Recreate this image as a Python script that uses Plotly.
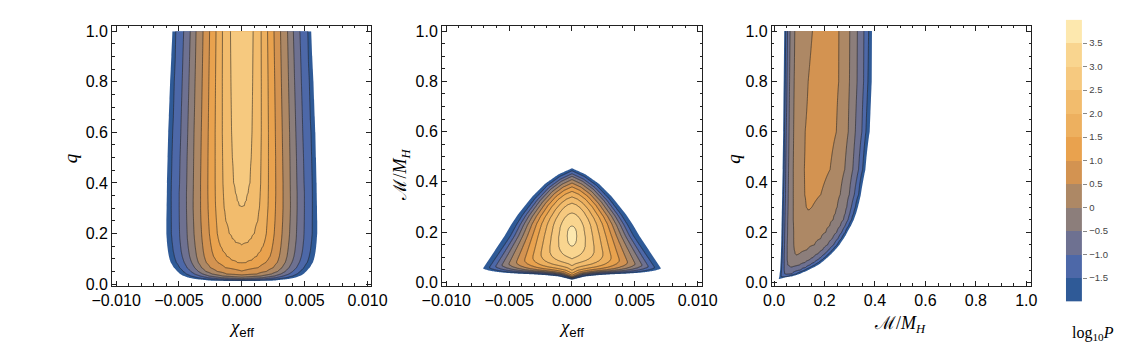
import numpy as np
import plotly.graph_objects as go

# log10 P contour levels and the bar-legend colours (bottom band first)
levels = [-2.0, -1.5, -1.0, -0.5, 0.0, 0.5, 1.0, 1.5, 2.0, 2.5, 3.0, 3.5]
band_colors = ['#2f5a97', '#4d68a8', '#6e7191', '#8c7e7b', '#ad8865', '#d39351',
               '#e9a24e', '#edb05f', '#f2bc6d', '#f6c97f', '#f9d58f', '#fde8ae']
bar_ticks = [-1.5, -1.0, -0.5, 0.0, 0.5, 1.0, 1.5, 2.0, 2.5, 3.0, 3.5]
bar_labels = ['−1.5', '−1.0', '−0.5', '0', '0.5', '1.0', '1.5', '2.0', '2.5', '3.0', '3.5']

OUT = -3.5  # anything below the lowest contour is left blank

# ---- panel 1: chi_eff vs q ----
# rows of q, log10 P on chi_eff = 0, and |chi_eff| (x1e-3) where each contour cuts the row
p1_q = [0.013, 0.016, 0.02, 0.025, 0.032, 0.04, 0.05, 0.065, 0.085, 0.095, 0.11, 0.13, 0.15,
        0.165, 0.18, 0.2, 0.25, 0.3, 0.31, 0.33, 0.36, 0.4, 0.5, 0.6, 0.8, 1.0]
p1_center = [-1.75, -1.25, -0.64, -0.17, 0.31, 0.66, 0.97, 1.22, 1.51, 1.59, 1.69, 1.84, 1.98,
             2.04, 2.09, 2.16, 2.33, 2.49, 2.51, 2.54, 2.58, 2.65, 2.74, 2.8, 2.86, 2.9]
p1_cross = {
    -2.0: [2.0, 2.9, 3.7, 4.2, 4.62, 4.9, 5.12, 5.4, 5.65, 5.72, 5.8, 5.87, 5.92,
           5.95, 5.97, 6.0, 6.0, 5.98, 5.98, 5.97, 5.96, 5.95, 5.9, 5.85, 5.7, 5.52],
    -1.5: [None, 1.7, 2.75, 3.5, 4.05, 4.4, 4.66, 4.95, 5.2, 5.28, 5.37, 5.45, 5.5,
           5.54, 5.57, 5.6, 5.61, 5.62, 5.62, 5.62, 5.62, 5.6, 5.56, 5.5, 5.38, 5.25],
    -1.0: [None, None, 1.6, 2.65, 3.3, 3.75, 4.05, 4.35, 4.57, 4.65, 4.74, 4.82, 4.87,
           4.9, 4.93, 4.95, 4.97, 4.98, 4.98, 4.98, 4.98, 4.95, 4.91, 4.85, 4.74, 4.62],
    -0.5: [None] * 3 + [1.6, 2.6, 3.1, 3.45, 3.75, 3.98, 4.06, 4.15, 4.22, 4.27,
                        4.3, 4.33, 4.35, 4.38, 4.4, 4.4, 4.4, 4.4, 4.38, 4.35, 4.3, 4.2, 4.1],
    0.0: [None] * 4 + [1.5, 2.35, 2.85, 3.2, 3.45, 3.52, 3.6, 3.66, 3.71,
                       3.74, 3.77, 3.8, 3.84, 3.87, 3.87, 3.87, 3.86, 3.85, 3.83, 3.8, 3.72, 3.64],
    0.5: [None] * 5 + [1.2, 1.95, 2.5, 2.82, 2.9, 2.99, 3.06, 3.11,
                       3.14, 3.17, 3.2, 3.25, 3.28, 3.28, 3.28, 3.28, 3.28, 3.25, 3.22, 3.15, 3.08],
    1.0: [None] * 7 + [1.3, 1.9, 2.07, 2.25, 2.37, 2.44,
                       2.49, 2.53, 2.58, 2.64, 2.68, 2.68, 2.69, 2.7, 2.7, 2.69, 2.67, 2.62, 2.56],
    1.5: [None] * 8 + [0.34, 0.82, 1.2, 1.5, 1.7,
                       1.8, 1.88, 1.95, 2.02, 2.08, 2.09, 2.1, 2.11, 2.12, 2.12, 2.12, 2.09, 2.05],
    2.0: [None] * 13 + [0.5, 0.76, 1.0, 1.28, 1.4, 1.42, 1.44, 1.47, 1.5, 1.53, 1.55, 1.55, 1.54],
    2.5: [None] * 18 + [0.21, 0.36, 0.5, 0.65, 0.75, 0.82, 0.87, 0.9],
}

# ---- panel 2: chi_eff vs M/M_H ----
# one entry per contour: where it cuts chi_eff = 0 below/above the peak, its half
# width (x1e-3) at M/M_H = 0.184, its lower corner, and how triangular it is
p2_bottom = [0.010, 0.013, 0.016, 0.018, 0.020, 0.023, 0.028, 0.036, 0.048, 0.066, 0.093, 0.144]
p2_top = [0.454, 0.444, 0.432, 0.422, 0.409, 0.395, 0.38, 0.362, 0.34, 0.315, 0.276, 0.224]
p2_width = [5.37, 4.9, 4.58, 4.26, 3.92, 3.55, 3.15, 2.7, 2.2, 1.65, 1.05, 0.4]
p2_corner_x = [7.1, 6.6, 6.1, 5.6, 5.05, 4.45, 3.8, 3.15, 2.5, 1.8, 1.1, 0.4]
p2_corner_y = [0.054, 0.057, 0.061, 0.066, 0.071, 0.077, 0.085, 0.095, 0.108, 0.125, 0.155, 0.184]
p2_pointed = [1.0, 0.98, 0.95, 0.92, 0.88, 0.82, 0.75, 0.65, 0.55, 0.4, 0.2, 0.0]
p2_mid, p2_peak = 0.184, 3.8
# outline of the outer (triangular) and inner (egg) contours, normalised
p2_u = [0.0, 0.2, 0.4, 0.6, 0.8, 0.9, 1.0]
p2_side_tri = [1.0, 0.91, 0.77, 0.57, 0.32, 0.17, 0.0]
p2_side_egg = [1.0, 0.98, 0.917, 0.8, 0.6, 0.436, 0.0]
p2_s = [0.0, 0.15, 0.3, 0.45, 0.6, 0.75, 0.85, 0.93, 1.0]
p2_base_tri = [0.0, 0.3, 0.42, 0.5, 0.55, 0.63, 0.72, 0.83, 1.0]
p2_base_egg = [0.0, 0.011, 0.046, 0.107, 0.2, 0.339, 0.473, 0.632, 1.0]

# ---- panel 3: M/M_H vs q ----
p3_q = [0.015, 0.018, 0.025, 0.035, 0.05, 0.06, 0.07, 0.08, 0.09, 0.1, 0.115, 0.13, 0.15,
        0.175, 0.2, 0.225, 0.25, 0.275, 0.3, 0.35, 0.45, 0.6, 0.8, 1.0]
p3_peak_x = [0.021, 0.026, 0.04, 0.05, 0.06, 0.066, 0.072, 0.077, 0.082, 0.085, 0.09, 0.097, 0.105,
             0.112, 0.118, 0.123, 0.128, 0.134, 0.14, 0.152, 0.168, 0.183, 0.193, 0.2]
p3_peak = [-1.8, -1.65, -1.25, -0.92, -0.62, -0.52, -0.32, -0.24, -0.15, -0.07, 0.05, 0.11, 0.16,
           0.24, 0.3, 0.36, 0.42, 0.48, 0.53, 0.62, 0.75, 0.85, 0.88, 0.9]
p3_left = {
    -2.0: [0.018, 0.019, 0.021, 0.022, 0.024, 0.0245, 0.025, 0.0255, 0.026, 0.0265, 0.027, 0.0275, 0.028,
           0.0285, 0.029, 0.0295, 0.03, 0.0305, 0.031, 0.032, 0.034, 0.036, 0.038, 0.04],
    -1.5: [None, None, 0.027, 0.028, 0.029, 0.0295, 0.03, 0.0305, 0.031, 0.0315, 0.032, 0.0325, 0.033,
           0.0335, 0.034, 0.0345, 0.035, 0.0355, 0.036, 0.037, 0.039, 0.041, 0.044, 0.046],
    -1.0: [None] * 3 + [0.042, 0.04, 0.04, 0.04, 0.04, 0.04, 0.04, 0.04, 0.0405, 0.041,
                        0.0415, 0.042, 0.0425, 0.043, 0.0435, 0.044, 0.045, 0.046, 0.048, 0.051, 0.053],
    -0.5: [None] * 6 + [0.054, 0.053, 0.052, 0.052, 0.052, 0.052, 0.052,
                        0.0525, 0.053, 0.0535, 0.054, 0.0545, 0.055, 0.056, 0.057, 0.059, 0.061, 0.063],
    0.0: [None] * 10 + [0.083, 0.08, 0.078, 0.077, 0.077, 0.0765, 0.076, 0.076, 0.076, 0.076, 0.076,
                        0.077, 0.079, 0.082],
    0.5: [None] * 18 + [0.127, 0.121, 0.12, 0.123, 0.135, 0.152],
}
p3_right = {
    -2.0: [0.025, 0.035, 0.072, 0.103, 0.135, 0.156, 0.174, 0.188, 0.2, 0.212, 0.228, 0.242, 0.259,
           0.276, 0.29, 0.304, 0.316, 0.325, 0.332, 0.344, 0.362, 0.379, 0.387, 0.388],
    -1.5: [None, None, 0.055, 0.088, 0.122, 0.142, 0.16, 0.176, 0.19, 0.202, 0.218, 0.232, 0.25,
           0.267, 0.282, 0.295, 0.307, 0.315, 0.322, 0.335, 0.351, 0.364, 0.372, 0.375],
    -1.0: [None] * 3 + [0.07, 0.105, 0.125, 0.142, 0.158, 0.172, 0.185, 0.202, 0.217, 0.236,
                        0.253, 0.268, 0.281, 0.293, 0.3, 0.306, 0.318, 0.335, 0.348, 0.355, 0.356],
    -0.5: [None] * 6 + [0.1, 0.122, 0.14, 0.155, 0.175, 0.192, 0.212,
                        0.231, 0.248, 0.262, 0.275, 0.282, 0.288, 0.298, 0.312, 0.322, 0.329, 0.33],
    0.0: [None] * 10 + [0.1, 0.13, 0.16, 0.185, 0.205, 0.22, 0.234, 0.243, 0.25, 0.262, 0.28,
                        0.294, 0.299, 0.3],
    0.5: [None] * 18 + [0.15, 0.185, 0.222, 0.247, 0.256, 0.257],
}


def present(table, r):
    return [L for L in levels if L in table and table[L][r] is not None]


def profile(grid, lo, hi, lev, peak_at, peak):
    """log10 P along one grid line from its contour crossings.
    lo / hi: crossings below / above the peak, outermost contour first.
    Past the last contour the value keeps falling at the same rate."""
    in_lo = lo[1] if len(lo) > 1 else peak_at
    in_hi = hi[1] if len(hi) > 1 else peak_at
    drop = (lev[1] if len(lev) > 1 else peak) - lev[0]
    n = 40
    xs = [lo[0] - n * (in_lo - lo[0])] + lo + [peak_at] + hi[::-1] + [hi[0] + n * (hi[0] - in_hi)]
    zs = [lev[0] - n * drop] + lev + [peak] + lev[::-1] + [lev[0] - n * drop]
    return np.interp(grid, xs, zs)


# panel 1 grid (symmetric in chi_eff)
p1_x = np.round(np.arange(-6.8, 6.801, 0.05), 3)
p1_z = [np.full(p1_x.size, OUT)]
for r in range(len(p1_q)):
    lev = present(p1_cross, r)
    pos = [p1_cross[L][r] for L in lev]
    p1_z.append(profile(p1_x, [-p for p in pos], pos, lev, 0.0, p1_center[r]))
p1_y = [0.007] + p1_q

# panel 2 grid, built column by column
p2_xh = np.round(np.arange(0.0, 7.801, 0.05), 3)
p2_y = np.round(np.arange(0.004, 0.4801, 0.002), 4)
cols = []
for x in p2_xh:
    lows, highs, idx = [], [], []
    for i in range(len(levels)):
        if x >= p2_corner_x[i]:
            continue
        w = p2_pointed[i]
        s = x / p2_corner_x[i]
        b = w * np.interp(s, p2_s, p2_base_tri) + (1 - w) * np.interp(s, p2_s, p2_base_egg)
        lows.append(p2_bottom[i] + (p2_corner_y[i] - p2_bottom[i]) * b)
        if x <= p2_width[i]:
            u = x / p2_width[i]
            v = w * np.interp(u, p2_u, p2_side_tri) + (1 - w) * np.interp(u, p2_u, p2_side_egg)
            highs.append(p2_mid + (p2_top[i] - p2_mid) * v)
        else:
            highs.append(p2_mid - (p2_mid - p2_corner_y[i]) * (x - p2_width[i]) / (p2_corner_x[i] - p2_width[i]))
        idx.append(i)
    if not idx:
        cols.append(np.full(p2_y.size, OUT))
        continue
    k = idx[-1]
    if k + 1 < len(levels):
        frac = (p2_corner_x[k] - x) / (p2_corner_x[k] - p2_corner_x[k + 1])
        top = levels[k] + 0.5 * min(frac, 0.95)
    else:
        top = levels[k] + (p2_peak - levels[k]) * (1 - x / p2_corner_x[k])
    lev = [levels[i] for i in idx]
    cols.append(profile(p2_y, lows, highs, lev, (lows[-1] + highs[-1]) / 2, top))
half = np.array(cols).T
p2_z = np.hstack([half[:, :0:-1], half])
p2_x = np.concatenate([-p2_xh[:0:-1], p2_xh])

# panel 3 grid
p3_x = np.round(np.arange(0.0, 0.4401, 0.002), 4)
p3_z = [np.full(p3_x.size, OUT)]
for r in range(len(p3_q)):
    lev = present(p3_left, r)
    lx = [p3_left[L][r] for L in lev]
    rx = [p3_right[L][r] for L in lev]
    p3_z.append(profile(p3_x, lx, rx, lev, p3_peak_x[r], p3_peak[r]))
p3_y = [0.011] + p3_q

# filled bands: below -2 white, then one colour per 0.5 step
fill_scale = [[0.0, 'white']] + [[(k + 1) / 12, c] for k, c in enumerate(band_colors)]

fig = go.Figure()


def add_panel(x, y, z, xa, ya):
    fig.add_trace(go.Contour(
        x=x, y=y, z=z, xaxis=xa, yaxis=ya, autocontour=False,
        contours=dict(coloring='fill', start=-2.0, end=3.5, size=0.5),
        colorscale=fill_scale, line=dict(width=0, smoothing=0),
        showscale=False, hoverinfo='skip'))
    fig.add_trace(go.Contour(
        x=x, y=y, z=z, xaxis=xa, yaxis=ya, autocontour=False,
        contours=dict(coloring='none', start=-1.5, end=3.5, size=0.5),
        line=dict(color='rgba(30,30,30,0.62)', width=0.9, smoothing=0),
        showscale=False, hoverinfo='skip'))


add_panel(p1_x * 1e-3, p1_y, np.array(p1_z), 'x', 'y')
add_panel(p2_x * 1e-3, p2_y, p2_z, 'x2', 'y2')
add_panel(p3_x, p3_y, np.array(p3_z), 'x3', 'y3')

# bar legend
bar_scale = []
for k, c in enumerate(band_colors):
    bar_scale += [[k / 12, c], [(k + 1) / 12, c]]
fig.add_trace(go.Heatmap(
    x=[0], y=[lv + 0.25 for lv in levels], z=[[k] for k in range(12)],
    zmin=-0.5, zmax=11.5, colorscale=bar_scale, showscale=False,
    xaxis='x4', yaxis='y4', hoverinfo='skip'))

W, H = 1130, 348
sans = 'Liberation Sans, Arial, sans-serif'
serif = 'Liberation Serif, Times New Roman, serif'


def frame(px0, px1, rng, dtick, minor, fmt, anchor, vertical=False):
    dom = [1 - px1 / H, 1 - px0 / H] if vertical else [px0 / W, px1 / W]
    return dict(domain=dom, range=rng, anchor=anchor, showline=True, linecolor='#222',
                linewidth=1, mirror='allticks', ticks='inside', ticklen=5, tickwidth=1,
                tickcolor='#222', tick0=0, dtick=dtick, tickformat=fmt,
                minor=dict(ticks='inside', ticklen=2.5, tick0=0, dtick=minor, tickcolor='#222'),
                showgrid=False, zeroline=False,
                tickfont=dict(family=sans, size=16, color='black'))


fig.update_layout(
    width=W, height=H, margin=dict(l=0, r=0, t=0, b=0),
    paper_bgcolor='white', plot_bgcolor='white', showlegend=False, hovermode=False,
    xaxis=frame(86, 354, [-0.01031, 0.01031], 0.005, 0.001, '.3f', 'y'),
    yaxis=frame(15, 283, [-0.007, 1.022], 0.2, 0.05, '.1f', 'x', True),
    xaxis2=frame(427, 696, [-0.01034, 0.01036], 0.005, 0.001, '.3f', 'y2'),
    yaxis2=frame(15, 283, [-0.0143, 1.022], 0.2, 0.05, '.1f', 'x2', True),
    xaxis3=frame(768, 1036, [-0.009, 1.019], 0.2, 0.05, '.1f', 'y3'),
    yaxis3=frame(15, 283, [-0.013, 1.022], 0.2, 0.05, '.1f', 'x3', True),
    xaxis4=dict(domain=[1072 / W, 1089 / W], range=[-0.5, 0.5], visible=False, anchor='y4'),
    yaxis4=dict(domain=[1 - 299.2 / H, 1 - 8.9 / H], range=[-2, 4], anchor='x4', side='right',
                showline=False, showgrid=False, zeroline=False, ticks='outside', ticklen=4,
                tickcolor='#888', tickvals=bar_ticks, ticktext=bar_labels,
                tickfont=dict(family=sans, size=9.5, color='#444')),
)

chi_label = '<i>χ</i><sub><span style="font-family:Liberation Sans, Arial, sans-serif">eff</span></sub>'
mass_label = 'ℳ/<i>M</i><sub><i>H</i></sub>'
labels = [
    (220, 326, chi_label, 0, 19),
    (561, 326, chi_label, 0, 19),
    (901, 323, mass_label, 0, 18),
    (43, 152, '<i>q</i>', -90, 19),
    (385, 168, mass_label, -90, 18),
    (728, 152, '<i>q</i>', -90, 19),
    (1100, 332, 'log<sub>10</sub><i>P</i>', 0, 16),
]
for px, py, text, angle, size in labels:
    fig.add_annotation(x=px / W, y=1 - py / H, xref='paper', yref='paper', text=text,
                       showarrow=False, textangle=angle, xanchor='center', yanchor='middle',
                       font=dict(family=serif, size=size, color='black'))

fig.write_html("out.html")
